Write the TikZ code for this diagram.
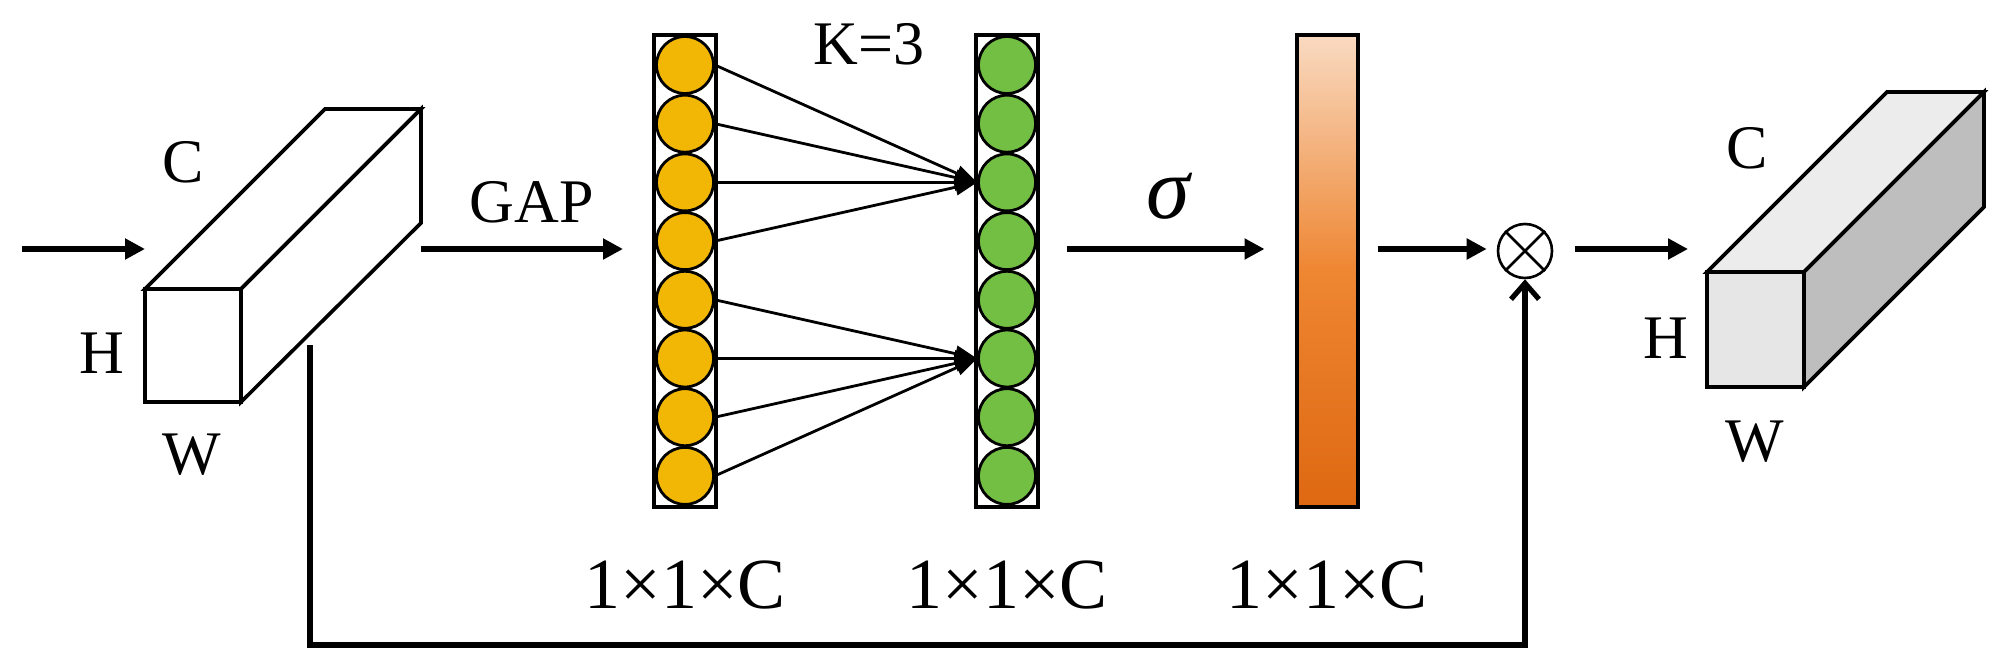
\documentclass[tikz,border=0pt]{standalone}
\usepackage{fontspec}
\setmainfont{Liberation Serif}
\usetikzlibrary{arrows.meta,calc}

\definecolor{ocirc}{HTML}{F2B705}
\definecolor{gcirc}{HTML}{72BF44}
\definecolor{barTop}{HTML}{F9DAC1}
\definecolor{barMid}{HTML}{EE8632}
\definecolor{barBot}{HTML}{DF6812}
\definecolor{cubeFront}{HTML}{E6E6E6}
\definecolor{cubeTop}{HTML}{ECECEC}
\definecolor{cubeSide}{HTML}{BEBEBE}

\begin{document}
\begin{tikzpicture}[x=0.5pt,y=-0.5pt,
  mainarrow/.style={line width=2.6pt,-{Triangle[length=10pt,width=10pt]}},
  fanarrow/.style={line width=1.4pt,-{Triangle[length=11pt,width=8pt]}},
  cubeedge/.style={line width=1.8pt,line join=miter},
  colbox/.style={draw,line width=2pt,minimum width=31pt,minimum height=236pt,inner sep=0pt,fill=white},
  ball/.style={circle,draw,line width=1.4pt,minimum size=28.5pt,inner sep=0pt},
  lbl/.style={font=\fontsize{31}{37}\selectfont,inner sep=0pt},
  dimlbl/.style={font=\fontsize{36}{42}\selectfont,inner sep=0pt}]
\useasboundingbox (0,0) rectangle (2000,663);

% ---------- left cuboid (input) ----------
\draw[cubeedge,fill=white] (145,289) rectangle (241,402);
\draw[cubeedge,fill=white] (145,289) -- (325,109) -- (421,109) -- (241,289) -- cycle;
\draw[cubeedge,fill=white] (241,289) -- (421,109) -- (421,223) -- (241,402) -- cycle;
\node[lbl] (lC) at (183,162) {C};
\node[lbl] (lH) at (102,353) {H};
\node[lbl] (lW) at (192,455) {W};

% ---------- right cuboid (output) ----------
\draw[cubeedge,fill=cubeFront] (1707,272) rectangle (1804,387);
\draw[cubeedge,fill=cubeTop] (1707,272) -- (1887,92) -- (1984,92) -- (1804,272) -- cycle;
\draw[cubeedge,fill=cubeSide] (1804,272) -- (1984,92) -- (1984,207) -- (1804,387) -- cycle;
\node[lbl] (rC) at (1747,148) {C};
\node[lbl] (rH) at (1666,338) {H};
\node[lbl] (rW) at (1755,442) {W};

% ---------- columns ----------
\node[colbox] (ocol) at (685,271) {};
\node[colbox] (gcol) at (1007,271) {};
\foreach \i in {1,...,8}{
  \node[ball,fill=ocirc] (o\i) at (685,{65+(\i-1)*58.7}) {};
  \node[ball,fill=gcirc] (g\i) at (1007,{65+(\i-1)*58.7}) {};
}
\foreach \i in {1,2,3,4} \draw[fanarrow] (o\i.east) -- (g3.west);
\foreach \i in {5,6,7,8} \draw[fanarrow] (o\i.east) -- (g6.west);
\node[lbl] (K) at (869,44) {K=3};

% ---------- sigmoid bar ----------
\node[draw,line width=2pt,minimum width=30.5pt,minimum height=235.5pt,inner sep=0pt,
      top color=barTop,bottom color=barBot,middle color=barMid] (bar) at (1327,271) {};

% ---------- multiply ----------
\node[circle,draw,line width=1.3pt,minimum size=27pt,inner sep=0pt] (mul) at (1525,251) {};
\draw[line width=1.3pt] (mul.45) -- (mul.225) (mul.135) -- (mul.315);

% ---------- main arrows ----------
\coordinate (inS) at (22,249);
\coordinate (inE) at (145,249);
\draw[mainarrow] (inS) -- (inE);

\coordinate (gapS) at (421,249);
\draw[mainarrow] (gapS) -- ($(ocol.west|-gapS)+(-29,0)$);
\node[lbl] (GAP) at (532,202) {GAP};

\draw[mainarrow] ($(gcol.east|-gapS)+(27,0)$) -- ($(bar.west|-gapS)+(-30,0)$);
\node[inner sep=0pt,font=\fontsize{44}{50}\selectfont] (sig) at (1168,196) {\itshape σ};

\draw[mainarrow] ($(bar.east|-gapS)+(18,0)$) -- ($(mul.west|-gapS)+(-10,0)$);

\coordinate (outE) at (1688,249);
\draw[mainarrow] ($(mul.east|-gapS)+(22,0)$) -- (outE);

% ---------- skip connection ----------
\coordinate (sk) at (310,345);
\coordinate (skb) at (310,645);
\draw[line width=2.6pt,line join=miter,-{Straight Barb[length=8pt,width=14pt]}] (sk) -- (skb) -| (mul.south);

% ---------- dimension labels ----------
\node[dimlbl] (d1) at (685,585) {1×1×C};
\node[dimlbl] (d2) at (1007,585) {1×1×C};
\node[dimlbl] (d3) at (1327,585) {1×1×C};
\end{tikzpicture}
\end{document}
